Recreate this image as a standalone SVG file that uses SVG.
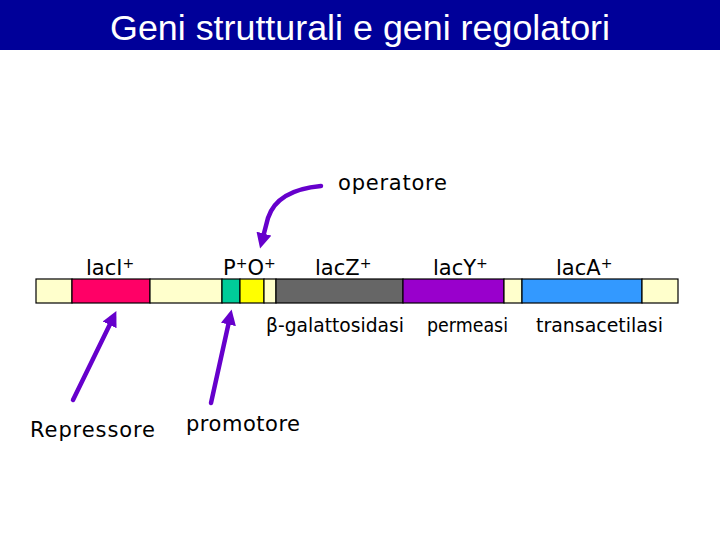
<svg xmlns="http://www.w3.org/2000/svg" width="720" height="540" viewBox="0 0 720 540">
<defs>
<style>
.t{font-family:"DejaVu Sans","Liberation Sans",sans-serif;font-size:21px;fill:#000}
.p{font-size:20px}
.sup{font-size:14px}
.seg{stroke:#000;stroke-width:1.2}
.arr{fill:none;stroke:#6600CC;stroke-width:4.5;stroke-linecap:round;marker-end:url(#ah)}
</style>
<marker id="ah" viewBox="0 0 10 10" refX="5" refY="5" markerWidth="3.4" markerHeight="3.4" orient="auto" markerUnits="strokeWidth">
<path d="M0,0 L10,5 L0,10 z" fill="#6600CC"/>
</marker>
</defs>
<rect width="720" height="540" fill="#fff"/>
<g id="title">
<rect x="0" y="0" width="720" height="50" fill="#000099"/>
<text x="360" y="40" text-anchor="middle" font-family="Liberation Sans, Arial, sans-serif" font-size="35" fill="#fff" textLength="500" lengthAdjust="spacingAndGlyphs">Geni strutturali e geni regolatori</text>
</g>
<g id="chromosome">
<rect class="seg" x="36" y="279" width="36" height="24" fill="#FFFFCC"/>
<rect class="seg" x="72" y="279" width="78" height="24" fill="#FF0066"/>
<rect class="seg" x="150" y="279" width="72" height="24" fill="#FFFFCC"/>
<rect class="seg" x="222" y="279" width="18" height="24" fill="#00CC99"/>
<rect class="seg" x="240" y="279" width="24" height="24" fill="#FFFF00"/>
<rect class="seg" x="264" y="279" width="12" height="24" fill="#FFFFCC"/>
<rect class="seg" x="276" y="279" width="127" height="24" fill="#666666"/>
<rect class="seg" x="403" y="279" width="101" height="24" fill="#9900CC"/>
<rect class="seg" x="504" y="279" width="18" height="24" fill="#FFFFCC"/>
<rect class="seg" x="522" y="279" width="120" height="24" fill="#3399FF"/>
<rect class="seg" x="642" y="279" width="36" height="24" fill="#FFFFCC"/>
</g>
<g id="gene-labels">
<text class="t" x="86" y="275">lacI<tspan class="sup" dy="-7">+</tspan></text>
<text class="t" x="223" y="275">P<tspan class="sup" dy="-7">+</tspan><tspan dy="7">O</tspan><tspan class="sup" dy="-7">+</tspan></text>
<text class="t" x="315" y="275">lacZ<tspan class="sup" dy="-7">+</tspan></text>
<text class="t" x="433" y="275">lacY<tspan class="sup" dy="-7">+</tspan></text>
<text class="t" x="556" y="275">lacA<tspan class="sup" dy="-7">+</tspan></text>
</g>
<g id="product-labels">
<text class="t p" x="266" y="332" textLength="138" lengthAdjust="spacingAndGlyphs">β-galattosidasi</text>
<text class="t p" x="427" y="332" textLength="81" lengthAdjust="spacingAndGlyphs">permeasi</text>
<text class="t p" x="536" y="332" textLength="127" lengthAdjust="spacingAndGlyphs">transacetilasi</text>
</g>
<g id="operatore"><text class="t" x="338" y="190" textLength="109">operatore</text></g>
<g id="repressore"><text class="t" x="30" y="437" textLength="125">Repressore</text></g>
<g id="promotore"><text class="t" x="186" y="431" textLength="114">promotore</text></g>
<g id="connectors">
<path class="arr" d="M321,186 Q277,190 268,218 L262,241"/>
<path class="arr" d="M73,400 L113,318"/>
<path class="arr" d="M211,403 L230,317"/>
</g>
</svg>
